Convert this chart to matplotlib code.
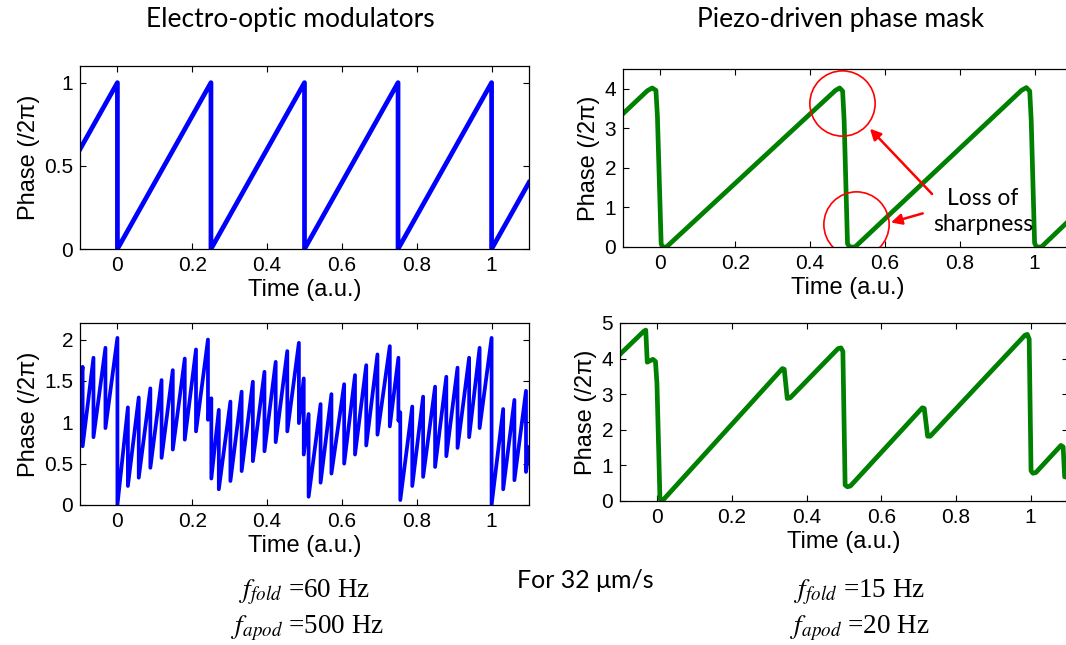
import matplotlib
matplotlib.use('Agg')
import matplotlib.pyplot as plt
from matplotlib.ticker import FuncFormatter

# --- data ------------------------------------------------------------------
# top left: electro-optic modulators, folding sawtooth only
eo_t = [-0.1, 0.0, 0.0, 0.25, 0.25, 0.5, 0.5, 0.75, 0.75, 1.0, 1.0, 1.1]
eo_phase = [0.6, 1.0, 0.0, 1.0, 0.0, 1.0, 0.0, 1.0, 0.0, 1.0, 0.0, 0.4]

# bottom left: folding + apodization teeth
# each tooth: time of the drop, value just before it, value just after it
apod_start = (-0.1, 1.42)
apod_drop_t = [-0.093, -0.064, -0.032, 0.000, 0.028, 0.057, 0.088, 0.118, 0.148,
               0.180, 0.210, 0.242, 0.251, 0.271, 0.302, 0.332, 0.362, 0.393,
               0.423, 0.454, 0.485, 0.498, 0.511, 0.543, 0.572, 0.606, 0.635,
               0.665, 0.695, 0.728, 0.751, 0.756, 0.788, 0.817, 0.849, 0.879,
               0.909, 0.940, 0.968, 1.000, 1.031, 1.061, 1.092]
apod_top = [1.67, 1.78, 1.90, 2.02, 1.18, 1.30, 1.41, 1.51, 1.63,
            1.77, 1.88, 2.00, 1.29, 1.15, 1.25, 1.37, 1.49, 1.61,
            1.73, 1.86, 1.96, 1.53, 1.10, 1.22, 1.34, 1.46, 1.57,
            1.69, 1.82, 1.92, 1.78, 1.12, 1.19, 1.31, 1.43, 1.55,
            1.66, 1.78, 1.90, 2.02, 1.16, 1.27, 1.38]
apod_bottom = [0.71, 0.82, 0.93, 0.00, 0.23, 0.33, 0.45, 0.57, 0.67,
               0.79, 0.89, 1.03, 0.32, 0.19, 0.29, 0.41, 0.53, 0.65,
               0.76, 0.89, 0.99, 0.61, 0.10, 0.27, 0.38, 0.50, 0.61,
               0.72, 0.85, 0.95, 1.02, 0.06, 0.23, 0.34, 0.46, 0.59,
               0.69, 0.82, 0.93, 0.00, 0.19, 0.30, 0.40]
apod_end = (1.1, 0.70)

# top right: piezo phase mask, folding only
pz_t = [-0.1, -0.035, -0.022, -0.012, -0.008, 0.002, 0.006, 0.016,
        0.468, 0.479, 0.487, 0.491, 0.500, 0.506, 0.520,
        0.965, 0.978, 0.987, 0.991, 1.000, 1.005, 1.018, 1.1]
pz_phase = [3.37, 3.95, 4.02, 3.96, 3.30, 0.08, 0.0, 0.0,
            3.96, 4.02, 3.94, 3.20, 0.08, 0.0, 0.0,
            3.96, 4.03, 3.94, 3.20, 0.10, 0.0, 0.0, 0.74]

# bottom right: piezo phase mask, folding + apodization
pz2_t = [-0.1, -0.036, -0.031, -0.027, -0.012, -0.005, -0.001, 0.007, 0.013,
         0.335, 0.340, 0.348, 0.356, 0.484, 0.492, 0.497, 0.503, 0.509, 0.517,
         0.710, 0.715, 0.724, 0.731, 0.985, 0.991, 0.996, 1.001, 1.006, 1.014,
         1.081, 1.087, 1.091, 1.1]
pz2_phase = [4.12, 4.77, 4.80, 3.90, 3.98, 3.92, 3.30, 0.06, 0.0,
             3.72, 3.70, 2.88, 2.90, 4.28, 4.30, 4.20, 0.45, 0.40, 0.42,
             2.62, 2.60, 1.82, 1.82, 4.66, 4.68, 4.55, 0.85, 0.78, 0.80,
             1.56, 1.52, 0.68, 0.66]

time_ticks = [0, 0.2, 0.4, 0.6, 0.8, 1]

# build the apodized trace from the teeth
apod_t = [apod_start[0]]
apod_phase = [apod_start[1]]
for t, hi, lo in zip(apod_drop_t, apod_top, apod_bottom):
    apod_t += [t, t]
    apod_phase += [hi, lo]
apod_t.append(apod_end[0])
apod_phase.append(apod_end[1])

# --- figure -----------------------------------------------------------------
plt.rcParams['font.family'] = ['Liberation Sans', 'DejaVu Sans']
plt.rcParams['mathtext.fontset'] = 'stix'

W, H = 1066, 645
fig = plt.figure(figsize=(W / 100, H / 100), dpi=100)


def box(l, r, t, b):
    return [l / W, 1 - b / H, (r - l) / W, (b - t) / H]


ax_tl = fig.add_axes(box(80, 529, 66, 249))
ax_bl = fig.add_axes(box(80, 529, 323, 505))
ax_tr = fig.add_axes(box(623, 1072, 69, 247))
ax_br = fig.add_axes(box(620, 1068, 323, 501))

fmt = FuncFormatter(lambda v, p: '%g' % v)

ax_tl.plot(eo_t, eo_phase, color='#0000ff', lw=3.4)
ax_bl.plot(apod_t, apod_phase, color='#0000ff', lw=2.7)
ax_tr.plot(pz_t, pz_phase, color='#008000', lw=3.4, solid_joinstyle='round')
ax_br.plot(pz2_t, pz2_phase, color='#008000', lw=3.4, solid_joinstyle='round')

ylims = [(ax_tl, 1.1, [0, 0.5, 1]), (ax_bl, 2.2, [0, 0.5, 1, 1.5, 2]),
         (ax_tr, 4.5, [0, 1, 2, 3, 4]), (ax_br, 5, [0, 1, 2, 3, 4, 5])]
for ax, top, yt in ylims:
    ax.set_xlim(-0.1, 1.1)
    ax.set_ylim(0, top)
    ax.set_xticks(time_ticks)
    ax.set_yticks(yt)
    ax.xaxis.set_major_formatter(fmt)
    ax.yaxis.set_major_formatter(fmt)
    ax.tick_params(direction='in', top=True, right=True, length=4, width=0.8,
                   labelsize=15, pad=5)
    for s in ax.spines.values():
        s.set_linewidth(0.9)
    ax.set_xlabel('Time (a.u.)', fontsize=17, labelpad=3)
    ax.set_ylabel('Phase (/2\u03c0)', fontsize=17, labelpad=3)

# annotations on the piezo trace
for cx, cy in [(0.486, 3.64), (0.524, 0.59)]:
    ax_tr.plot(cx, cy, 'o', ms=47, mfc='none', mec='red', mew=1.2)
ax_tr.annotate('', xy=(0.560, 2.99), xytext=(0.726, 1.34),
               arrowprops=dict(arrowstyle='-|>', color='red', lw=1.8,
                               mutation_scale=16, shrinkA=0, shrinkB=0))
ax_tr.annotate('', xy=(0.616, 0.62), xytext=(0.701, 0.85),
               arrowprops=dict(arrowstyle='-|>', color='red', lw=1.8,
                               mutation_scale=16, shrinkA=0, shrinkB=0))
ax_tr.text(0.862, 0.90, 'Loss of\nsharpness', ha='center', va='center',
           fontsize=16.5, family='Lato', linespacing=1.25)

# titles and footnotes
fig.text(290 / W, 1 - 20 / H, 'Electro-optic modulators', ha='center',
         va='center', fontsize=19, family='Lato')
fig.text(841 / W, 1 - 20 / H, 'Piezo-driven phase mask', ha='center',
         va='center', fontsize=19, family='Lato')
fig.text(585 / W, 1 - 580 / H, 'For 32 \u03bcm/s', ha='center', va='center',
         fontsize=18, family='Lato')

ff = dict(ha='center', va='center', fontsize=19.5, family='Liberation Serif')
fig.text(305 / W, 1 - 592 / H, r'$f_{fold}$ =60 Hz', **ff)
fig.text(308 / W, 1 - 628 / H, r'$f_{apod}$ =500 Hz', **ff)
fig.text(860 / W, 1 - 592 / H, r'$f_{fold}$ =15 Hz', **ff)
fig.text(860 / W, 1 - 628 / H, r'$f_{apod}$ =20 Hz', **ff)

fig.savefig('out.png', dpi=100)
